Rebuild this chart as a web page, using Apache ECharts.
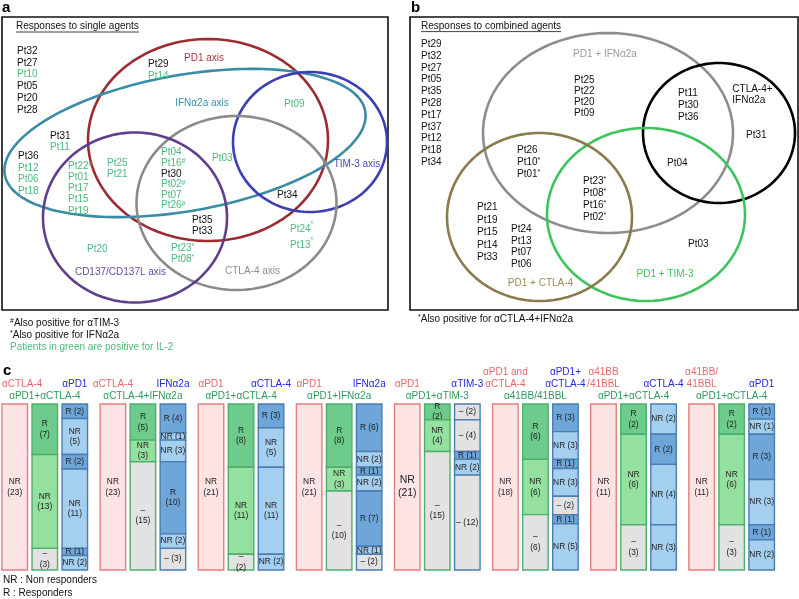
<!DOCTYPE html>
<html><head><meta charset="utf-8">
<script src="https://cdn.jsdelivr.net/npm/echarts@6/dist/echarts.min.js"></script>
<style>html,body{margin:0;padding:0;background:#fff}#c{width:799px;height:599px}</style>
</head><body><div id="c"></div>
<script>
const FONT = '"Liberation Sans", Arial, Helvetica, sans-serif';

// ================= DATA =================
// Panel a: responses to single agents
const aSetNames = ['PD1 axis', 'IFNα2a axis', 'TIM-3 axis', 'CTLA-4 axis', 'CD137/CD137L axis'];
const aRegions = [
  ['Pt32', 'Pt27', 'Pt10', 'Pt05', 'Pt20', 'Pt28'],
  ['Pt29', 'Pt14'],
  ['Pt09'],
  ['Pt31', 'Pt11'],
  ['Pt36', 'Pt12', 'Pt06', 'Pt18'],
  ['Pt22#', 'Pt01', 'Pt17', 'Pt15', 'Pt19'],
  ['Pt25', 'Pt21'],
  ['Pt04', 'Pt16#', 'Pt30', 'Pt02#', 'Pt07', 'Pt26#'],
  ['Pt03'],
  ['Pt34'],
  ['Pt35', 'Pt33'],
  ['Pt24*', 'Pt13*'],
  ['Pt20'],
  ['Pt23*', 'Pt08*']
];
// 1 = positive for IL-2 (shown in green)
const aIL2 = [
  [0, 0, 1, 0, 0, 0], [0, 1], [1], [0, 1], [0, 1, 1, 1], [1, 1, 1, 1, 1], [1, 1],
  [1, 1, 0, 1, 1, 1], [1], [0], [0, 0], [1, 1], [1], [1, 1]
];

// Panel b: responses to combined agents
const bSetNames = ['PD1 + IFNα2a', 'CTLA-4+\nIFNα2a', 'PD1 + TIM-3', 'PD1 + CTLA-4'];
const bRegions = [
  ['Pt29', 'Pt32', 'Pt27', 'Pt05', 'Pt35', 'Pt28', 'Pt17', 'Pt37', 'Pt12', 'Pt18', 'Pt34'],
  ['Pt25', 'Pt22', 'Pt20', 'Pt09'],
  ['Pt11', 'Pt30', 'Pt36'],
  ['Pt31'],
  ['Pt04'],
  ['Pt26', 'Pt10*', 'Pt01*'],
  ['Pt23*', 'Pt08*', 'Pt16*', 'Pt02*'],
  ['Pt21', 'Pt19', 'Pt15', 'Pt14', 'Pt33'],
  ['Pt24', 'Pt13', 'Pt07', 'Pt06'],
  ['Pt03']
];

// Panel c
const cRedTitles = [['αCTLA-4'], ['αCTLA-4'], ['αPD1'], ['αPD1'], ['αPD1'], ['αPD1 and', 'αCTLA-4'], ['α41BB', '/41BBL'], ['α41BB/', '41BBL']];
const cBlueTitles = [['αPD1'], ['IFNα2a'], ['αCTLA-4'], ['IFNα2a'], ['αTIM-3'], ['αPD1+', 'αCTLA-4'], ['αCTLA-4'], ['αPD1']];
const cGreenTitles = ['αPD1+αCTLA-4', 'αCTLA-4+IFNα2a', 'αPD1+αCTLA-4', 'αPD1+IFNα2a', 'αPD1+αTIM-3', 'α41BB/41BBL', 'αPD1+αCTLA-4', 'αPD1+αCTLA-4'];
const cSingleNR = [23, 23, 21, 21, 21, 18, 11, 11];
const cComboSeg = [
  [['R', 7], ['NR', 13], ['–', 3]],
  [['R', 5], ['NR', 3], ['–', 15]],
  [['R', 8], ['NR', 11], ['–', 2]],
  [['R', 8], ['NR', 3], ['–', 10]],
  [['R', 2], ['NR', 4], ['–', 15]],
  [['R', 6], ['NR', 6], ['–', 6]],
  [['R', 2], ['NR', 6], ['–', 3]],
  [['R', 2], ['NR', 6], ['–', 3]]
];
const cOtherSeg = [
  [['R', 2], ['NR', 5], ['R', 2], ['NR', 11], ['R', 1], ['NR', 2]],
  [['R', 4], ['NR', 1], ['NR', 3], ['R', 10], ['NR', 2], ['–', 3]],
  [['R', 3], ['NR', 5], ['NR', 11], ['NR', 2]],
  [['R', 6], ['NR', 2], ['R', 1], ['NR', 2], ['R', 7], ['NR', 1], ['–', 2]],
  [['–', 2], ['–', 4], ['R', 1], ['NR', 2], ['–', 12]],
  [['R', 3], ['NR', 3], ['R', 1], ['NR', 3], ['–', 2], ['R', 1], ['NR', 5]],
  [['NR', 2], ['R', 2], ['NR', 4], ['NR', 3]],
  [['R', 1], ['NR', 1], ['R', 3], ['NR', 3], ['R', 1], ['NR', 2]]
];

// ================= LAYOUT / STYLE =================
const GREEN_TXT = '#4cb97c';
const aEllipseGeom = [[206, 123, 120, 101, 0], [183, 126, 183, 68, -10], [308, 125, 77, 70, 0], [234.5, 186, 100, 87, 0], [133, 200.5, 92, 85, 0]];
const aEllipseColor = ['#9b2d30', '#3a8ca6', '#3b3fb4', '#8b8b8b', '#5f3f8d'];
const aLabelColor = ['#a23a3c', '#3a8ca6', '#4446c0', '#8e8e8e', '#6a4a98'];
const aLabelPos = [[202, 41], [200, 86], [355, 147], [250.5, 254.7], [118.5, 255.7]];
const aAnchor = [[15, 34, 11.8], [146, 47, 12.4], [282, 87, 12], [48, 119, 11.7], [16, 139, 11.8], [66, 149, 11.2], [105, 146, 11.7],
  [159, 135.7, 10.6], [210, 141, 12], [275, 178, 12], [190, 203, 11.7], [288, 212, 16], [85, 232, 12], [169, 231, 11]];

const bEllipseGeom = [[198, 116, 125, 100, 0], [309, 116, 76, 70, 0], [236, 197.5, 99, 86.5, 0], [129.5, 200, 92.5, 84, 0]];
const bEllipseColor = ['#8d8d8d', '#000000', '#3ec45c', '#8a7a4c'];
const bLabelColor = ['#9a9a9a', '#111111', '#3ec45c', '#9b8a5a'];
const bLabelPos = [[195, 37], [322.3, 78], [255, 257.3], [130.5, 266.3]];
const bLabelAlign = ['center', 'left', 'center', 'center'];
const bAnchor = [[11, 27.3, 11.8], [164, 63, 11.2], [268, 76.3, 12], [336, 118, 12], [257, 146.3, 12], [107, 133, 12.2],
  [173, 164.7, 11.9], [67, 190.3, 12.5], [101, 212.3, 11.7], [278, 227.3, 12]];

const C_BAR_OFF = [0, 0.306, 0.612];
const C_BAR_W = 0.26;
const cOtherTwoLine = [[0, 1, 0, 1, 0, 0], [0, 0, 0, 1, 0, 0], [0, 1, 1, 0], [0, 0, 0, 0, 0, 0, 0], [0, 0, 0, 0, 0], [0, 0, 0, 0, 0, 0, 0], [0, 0, 0, 0], [0, 0, 0, 0, 0, 0]];
const TYPES = ['R', 'NR', '–'];
const BAR_FILL = [['#fde4e4', '#fde4e4', '#fde4e4'], ['#6dcc8c', '#94e09e', '#e2e2e2'], ['#6fa6d9', '#a5cfee', '#e2e2e2']];
const BAR_STROKE = ['#e47f80', '#4fae6f', '#4b7eb0'];
const HDR_RED = '#e8676a', HDR_BLUE = '#2626e6', HDR_GREEN = '#2f9b5d';

// ================= HELPERS =================
const mctx = document.createElement('canvas').getContext('2d');
function textW(s, size) { mctx.font = size + 'px ' + FONT; return mctx.measureText(s).width; }

function makeRich(L) {
  return {
    k: { fill: '#111', fontSize: 10, fontFamily: FONT, lineHeight: L },
    g: { fill: GREEN_TXT, fontSize: 10, fontFamily: FONT, lineHeight: L },
    ks: { fill: '#111', fontSize: 7, fontFamily: FONT, lineHeight: 8, verticalAlign: 'top' },
    gs: { fill: GREEN_TXT, fontSize: 7, fontFamily: FONT, lineHeight: 8, verticalAlign: 'top' }
  };
}
function richName(name, key) {
  const m = name.match(/^(.*?)([#*]?)$/);
  let s = '{' + key + '|' + m[1] + '}';
  if (m[2]) s += '{' + key + 's|' + m[2] + '}';
  return s;
}

function ellipseRender(colors) {
  return function (params, api) {
    const cx = api.value(0), cy = api.value(1), rx = api.value(2), ry = api.value(3);
    const rot = api.value(4) * Math.PI / 180, i = api.value(5);
    const pts = [];
    for (let j = 0; j <= 160; j++) {
      const t = j / 160 * 2 * Math.PI;
      const x = cx + rx * Math.cos(t) * Math.cos(rot) - ry * Math.sin(t) * Math.sin(rot);
      const y = cy + rx * Math.cos(t) * Math.sin(rot) + ry * Math.sin(t) * Math.cos(rot);
      pts.push(api.coord([x, y]));
    }
    return { type: 'polygon', shape: { points: pts }, style: { fill: 'none', stroke: colors[i], lineWidth: 2.6 } };
  };
}

function regionRender(regions, anchors, colorFlags) {
  return function (params, api) {
    const i = api.value(2);
    const p = api.coord([api.value(0), api.value(1)]);
    const L = anchors[i][2];
    const txt = regions[i].map((n, j) => richName(n, colorFlags && colorFlags[i][j] ? 'g' : 'k')).join('\n');
    return {
      type: 'text', x: p[0], y: p[1] - L / 2,
      style: { text: txt, rich: makeRich(L), align: 'left', verticalAlign: 'top', fontFamily: FONT, fontSize: 10 }
    };
  };
}

function setLabelRender(names, colors, aligns) {
  return function (params, api) {
    const i = api.value(2);
    const p = api.coord([api.value(0), api.value(1)]);
    return {
      type: 'text', x: p[0], y: p[1],
      style: { text: names[i], fill: colors[i], fontSize: 10, fontFamily: FONT, lineHeight: 11.4,
        align: aligns ? aligns[i] : 'center', verticalAlign: 'middle' }
    };
  };
}

// build segment items for panel c
const cItems = [];
for (let g = 0; g < cSingleNR.length; g++) {
  const total = cSingleNR[g];
  const bars = [[['NR', cSingleNR[g]]], cComboSeg[g], cOtherSeg[g]];
  bars.forEach((segs, k) => {
    let acc = 0;
    segs.forEach((s, i) => {
      const two = k < 2 ? 1 : cOtherTwoLine[g][i];
      cItems.push([g + C_BAR_OFF[k], acc / total, g + C_BAR_OFF[k] + C_BAR_W, (acc + s[1]) / total, k, TYPES.indexOf(s[0]), s[1], two, g]);
      acc += s[1];
    });
  });
}

function barRender(params, api) {
  const p0 = api.coord([api.value(0), api.value(1)]);
  const p1 = api.coord([api.value(2), api.value(3)]);
  const k = api.value(4), t = api.value(5), n = api.value(6), two = api.value(7), g = api.value(8);
  const label = TYPES[t] + (two ? '\n' : ' ') + '(' + n + ')';
  const big = (k === 0 && g === 4);
  return {
    type: 'group', children: [
      { type: 'rect', shape: { x: p0[0], y: p0[1], width: p1[0] - p0[0], height: p1[1] - p0[1] },
        style: { fill: BAR_FILL[k][t], stroke: BAR_STROKE[k], lineWidth: 1.4 } },
      { type: 'text', x: (p0[0] + p1[0]) / 2, y: (p0[1] + p1[1]) / 2,
        style: { text: label, fill: '#222', fontSize: big ? 10.5 : 8.4, lineHeight: big ? 13 : 10.5, fontFamily: FONT,
          align: 'center', verticalAlign: 'middle' } }
    ]
  };
}

function headerRender(params, api) {
  const g = api.value(0);
  const top = api.coord([g, 0])[1];
  const cx = k => api.coord([g + C_BAR_OFF[k] + C_BAR_W / 2, 0])[0];
  const children = [];
  const addLines = (lines, x, color) => {
    lines.forEach((s, j) => {
      const y = top - 20 - (lines.length - 1 - j) * 11.5;
      const w = textW(s, 10);
      const xx = Math.min(Math.max(x, w / 2 + 2), 797 - w / 2);
      children.push({ type: 'text', x: xx, y: y, style: { text: s, fill: color, fontSize: 10, fontFamily: FONT, align: 'center', verticalAlign: 'middle' } });
    });
  };
  addLines(cRedTitles[g], cx(0), HDR_RED);
  addLines(cBlueTitles[g], cx(2), HDR_BLUE);
  children.push({ type: 'text', x: cx(1), y: top - 7.5, style: { text: cGreenTitles[g], fill: HDR_GREEN, fontSize: 10, fontFamily: FONT, align: 'center', verticalAlign: 'middle' } });
  return { type: 'group', children };
}

const supRich = {
  s: { fontSize: 7, lineHeight: 8, verticalAlign: 'top', fill: '#111', fontFamily: FONT },
  t: { fontSize: 10, lineHeight: 12, fill: '#111', fontFamily: FONT }
};

const option = {
  animation: false,
  grid: [
    { left: 2, top: 17, width: 386, height: 293, show: true, borderColor: '#111', borderWidth: 1.6, backgroundColor: 'transparent' },
    { left: 410, top: 17, width: 388, height: 293, show: true, borderColor: '#111', borderWidth: 1.6, backgroundColor: 'transparent' },
    { left: 2, top: 404, width: 785, height: 166, show: false }
  ],
  xAxis: [
    { gridIndex: 0, type: 'value', min: 0, max: 386, show: false },
    { gridIndex: 1, type: 'value', min: 0, max: 388, show: false },
    { gridIndex: 2, type: 'value', min: 0, max: 8, show: false }
  ],
  yAxis: [
    { gridIndex: 0, type: 'value', min: 0, max: 293, inverse: true, show: false },
    { gridIndex: 1, type: 'value', min: 0, max: 293, inverse: true, show: false },
    { gridIndex: 2, type: 'value', min: 0, max: 1, inverse: true, show: false }
  ],
  series: [
    { type: 'custom', silent: true, xAxisIndex: 0, yAxisIndex: 0, encode: { x: 0, y: 1 },
      data: aEllipseGeom.map((e, i) => [...e, i]), renderItem: ellipseRender(aEllipseColor) },
    { type: 'custom', silent: true, xAxisIndex: 0, yAxisIndex: 0, encode: { x: 0, y: 1 },
      data: aSetNames.map((n, i) => [aLabelPos[i][0], aLabelPos[i][1], i]), renderItem: setLabelRender(aSetNames, aLabelColor) },
    { type: 'custom', silent: true, xAxisIndex: 0, yAxisIndex: 0, encode: { x: 0, y: 1 },
      data: aRegions.map((r, i) => [aAnchor[i][0], aAnchor[i][1], i]), renderItem: regionRender(aRegions, aAnchor, aIL2) },
    { type: 'custom', silent: true, xAxisIndex: 1, yAxisIndex: 1, encode: { x: 0, y: 1 },
      data: bEllipseGeom.map((e, i) => [...e, i]), renderItem: ellipseRender(bEllipseColor) },
    { type: 'custom', silent: true, xAxisIndex: 1, yAxisIndex: 1, encode: { x: 0, y: 1 },
      data: bSetNames.map((n, i) => [bLabelPos[i][0], bLabelPos[i][1], i]), renderItem: setLabelRender(bSetNames, bLabelColor, bLabelAlign) },
    { type: 'custom', silent: true, xAxisIndex: 1, yAxisIndex: 1, encode: { x: 0, y: 1 },
      data: bRegions.map((r, i) => [bAnchor[i][0], bAnchor[i][1], i]), renderItem: regionRender(bRegions, bAnchor, null) },
    { type: 'custom', silent: true, xAxisIndex: 2, yAxisIndex: 2, encode: { x: [0, 2], y: [1, 3] },
      data: cItems, renderItem: barRender },
    { type: 'custom', silent: true, xAxisIndex: 2, yAxisIndex: 2, encode: { x: 0, y: 1 },
      data: cGreenTitles.map((s, g) => [g, 0]), renderItem: headerRender }
  ],
  graphic: [
    { type: 'text', x: 2, y: 8, style: { text: 'a', font: 'bold 15px ' + FONT, fill: '#000', verticalAlign: 'middle' } },
    { type: 'text', x: 411, y: 8, style: { text: 'b', font: 'bold 15px ' + FONT, fill: '#000', verticalAlign: 'middle' } },
    { type: 'text', x: 3, y: 371, style: { text: 'c', font: 'bold 15px ' + FONT, fill: '#000', verticalAlign: 'middle' } },
    { type: 'text', x: 16, y: 26.7, style: { text: 'Responses to single agents', fontSize: 10, fontFamily: FONT, fill: '#111', verticalAlign: 'middle' } },
    { type: 'line', shape: { x1: 16, y1: 32, x2: 139, y2: 32 }, style: { stroke: '#111', lineWidth: 0.8 } },
    { type: 'text', x: 421, y: 26.3, style: { text: 'Responses to combined agents', fontSize: 10, fontFamily: FONT, fill: '#111', verticalAlign: 'middle' } },
    { type: 'line', shape: { x1: 421, y1: 31.6, x2: 561, y2: 31.6 }, style: { stroke: '#111', lineWidth: 0.8 } },
    { type: 'text', x: 10, y: 323.5, style: { text: '{s|#}{t|Also positive for αTIM-3}', rich: supRich, verticalAlign: 'middle' } },
    { type: 'text', x: 10, y: 335.5, style: { text: '{s|*}{t|Also positive for IFNα2a}', rich: supRich, verticalAlign: 'middle' } },
    { type: 'text', x: 10, y: 347.5, style: { text: 'Patients in green are positive for IL-2', fontSize: 10, fontFamily: FONT, fill: GREEN_TXT, verticalAlign: 'middle' } },
    { type: 'text', x: 418, y: 319.5, style: { text: '{s|*}{t|Also positive for αCTLA-4+IFNα2a}', rich: supRich, verticalAlign: 'middle' } },
    { type: 'text', x: 3, y: 580.7, style: { text: 'NR : Non responders', fontSize: 10, fontFamily: FONT, fill: '#111', verticalAlign: 'middle' } },
    { type: 'text', x: 3, y: 593.3, style: { text: 'R : Responders', fontSize: 10, fontFamily: FONT, fill: '#111', verticalAlign: 'middle' } }
  ]
};

const chart = echarts.init(document.getElementById('c'), null, { renderer: 'canvas', width: 799, height: 599 });
chart.setOption(option);
</script>
</body></html>
